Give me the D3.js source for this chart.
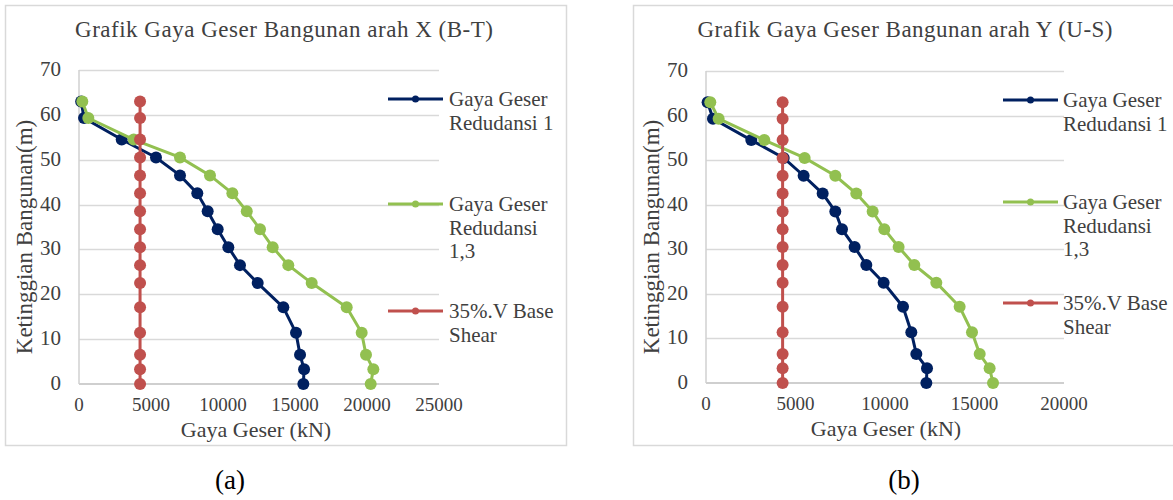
<!DOCTYPE html>
<html>
<head>
<meta charset="utf-8">
<title>Grafik Gaya Geser</title>
<script src="https://cdn.jsdelivr.net/npm/d3@7/dist/d3.min.js"></script>
<style>
  body { margin: 0; background: #fff; }
</style>
</head>
<body>
<svg id="chart" width="1173" height="500" font-family="'Liberation Serif', 'Times New Roman', Tinos, 'DejaVu Serif', serif"></svg>
<script>
// story heights (m), shared by both directions
var heights = [0, 3.3, 6.5, 11.4, 17.1, 22.5, 26.5, 30.5, 34.5, 38.5, 42.5, 46.5, 50.5, 54.5, 59.3, 63];

// direction X (B-T), shear in kN
var shearX1  = [15580, 15630, 15350, 15070, 14190, 12410, 11180, 10370, 9630, 8935, 8215, 7014, 5347, 2965, 350, 150];
var shearX13 = [20255, 20440, 19930, 19630, 18590, 16160, 14535, 13450, 12570, 11650, 10650, 9097, 7014, 3800, 646, 230];
var baseX35  = [4240, 4240, 4240, 4240, 4240, 4240, 4240, 4240, 4240, 4240, 4240, 4240, 4240, 4240, 4240, 4240];

// direction Y (U-S)
var shearY1  = [12310, 12347, 11750, 11470, 11006, 9924, 8956, 8304, 7597, 7224, 6517, 5455, 4340, 2530, 390, 90];
var shearY13 = [16035, 15845, 15290, 14860, 14170, 12867, 11637, 10760, 9962, 9310, 8397, 7224, 5510, 3257, 705, 240];
var baseY35  = [4280, 4280, 4280, 4280, 4280, 4280, 4280, 4280, 4280, 4280, 4280, 4280, 4280, 4280, 4280, 4280];

var yTicks  = [0, 10, 20, 30, 40, 50, 60, 70];
var xTicksX = [0, 5000, 10000, 15000, 20000, 25000];
var xTicksY = [0, 5000, 10000, 15000, 20000];

var seriesNames = [["Gaya Geser", "Redudansi 1"], ["Gaya Geser", "Redudansi", "1,3"], ["35%.V Base", "Shear"]];
var colors = ["#002060", "#92c050", "#c0504d"];
var textColor = "#404040";

var svg = d3.select("#chart");

function drawChart(o) {
  var g = svg.append("g").attr("fill", textColor);

  g.append("rect")
    .attr("x", o.box[0] + 0.5).attr("y", o.box[1] + 0.5)
    .attr("width", o.box[2]).attr("height", o.box[3])
    .attr("fill", "#fff").attr("stroke", "#d9d9d9").attr("stroke-width", 1.5);

  var x = d3.scaleLinear().domain([0, o.xTicks[o.xTicks.length - 1]]).range([o.plot[0], o.plot[1]]);
  var y = d3.scaleLinear().domain([0, 70]).range([o.plot[3], o.plot[2]]);

  // gridlines
  g.selectAll(".grid").data(yTicks.slice(1)).enter().append("line")
    .attr("x1", o.plot[0]).attr("x2", o.plot[1])
    .attr("y1", function(d) { return Math.round(y(d)) + 0.5; })
    .attr("y2", function(d) { return Math.round(y(d)) + 0.5; })
    .attr("stroke", "#d9d9d9").attr("stroke-width", 1.5);

  // axis lines
  g.append("line").attr("x1", o.plot[0]).attr("x2", o.plot[1])
    .attr("y1", y(0)).attr("y2", y(0)).attr("stroke", "#bfbfbf").attr("stroke-width", 1.5);
  g.append("line").attr("x1", o.plot[0]).attr("x2", o.plot[0])
    .attr("y1", y(0)).attr("y2", y(70)).attr("stroke", "#d0d0d0").attr("stroke-width", 1.5);

  // tick labels
  g.selectAll(".yt").data(yTicks).enter().append("text")
    .attr("x", o.plot[0] - 18).attr("y", function(d) { return y(d) + 6; })
    .attr("text-anchor", "end").attr("font-size", 21)
    .text(function(d) { return d; });
  g.selectAll(".xt").data(o.xTicks).enter().append("text")
    .attr("x", function(d) { return x(d); }).attr("y", y(0) + 27)
    .attr("text-anchor", "middle").attr("font-size", 19)
    .text(function(d) { return d; });

  // titles
  g.append("text").attr("x", o.title[0]).attr("y", o.title[1])
    .attr("text-anchor", "middle").attr("font-size", 23)
    .attr("textLength", o.title[2]).attr("lengthAdjust", "spacing")
    .text(o.titleText);
  g.append("text").attr("x", o.xTitle).attr("y", y(0) + 53)
    .attr("text-anchor", "middle").attr("font-size", 22)
    .text("Gaya Geser (kN)");
  g.append("text")
    .attr("transform", "translate(" + o.yTitle[0] + "," + o.yTitle[1] + ") rotate(-90)")
    .attr("text-anchor", "middle").attr("font-size", 23)
    .text("Ketinggian Bangunan(m)");

  // series: blue, then green, red drawn last (on top)
  var line = d3.line()
    .x(function(d) { return x(d[0]); })
    .y(function(d) { return y(d[1]); });

  o.series.forEach(function(vals, i) {
    var pts = vals.map(function(v, k) { return [v, heights[k]]; });
    var s = g.append("g");
    s.append("path").datum(pts).attr("d", line)
      .attr("fill", "none").attr("stroke", colors[i]).attr("stroke-width", 3);
    s.selectAll("circle").data(pts).enter().append("circle")
      .attr("cx", function(d) { return x(d[0]); })
      .attr("cy", function(d) { return y(d[1]); })
      .attr("r", 6).attr("fill", colors[i]);
  });

  // legend
  seriesNames.forEach(function(lines, i) {
    var ly = o.legendY[i];
    g.append("line").attr("x1", o.legend[0]).attr("x2", o.legend[1])
      .attr("y1", ly).attr("y2", ly).attr("stroke", colors[i]).attr("stroke-width", 3);
    g.append("circle").attr("cx", (o.legend[0] + o.legend[1]) / 2).attr("cy", ly)
      .attr("r", 3.5).attr("fill", colors[i]);
    var t = g.append("text").attr("x", o.legend[2]).attr("y", ly + 7).attr("font-size", 21);
    lines.forEach(function(l, j) {
      t.append("tspan").attr("x", o.legend[2]).attr("dy", j === 0 ? 0 : 23.5).text(l);
    });
  });

  g.append("text").attr("x", o.caption).attr("y", 489)
    .attr("text-anchor", "middle").attr("font-size", 27).attr("fill", "#000")
    .text(o.captionText);
}

drawChart({
  box: [5, 5, 561, 440],
  plot: [79, 439, 70, 384],
  xTicks: xTicksX,
  series: [shearX1, shearX13, baseX35],
  title: [284, 37, 418],
  titleText: "Grafik Gaya Geser Bangunan arah X (B-T)",
  xTitle: 256,
  yTitle: [32, 237],
  legend: [388, 443, 449],
  legendY: [99, 204, 311],
  caption: 230,
  captionText: "(a)"
});

drawChart({
  box: [633, 5, 560, 440],
  plot: [706, 1064, 71, 383],
  xTicks: xTicksY,
  series: [shearY1, shearY13, baseY35],
  title: [905, 37, 415],
  titleText: "Grafik Gaya Geser Bangunan arah Y (U-S)",
  xTitle: 886,
  yTitle: [659, 237],
  legend: [1003, 1058, 1063],
  legendY: [100, 202, 303],
  caption: 904,
  captionText: "(b)"
});
</script>
</body>
</html>
